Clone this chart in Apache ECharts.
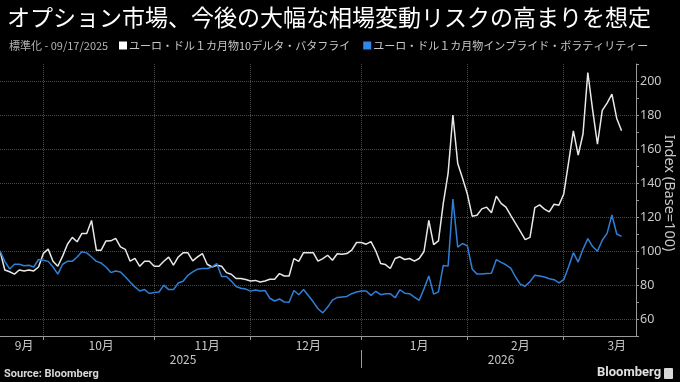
<!DOCTYPE html>
<html>
<head>
<meta charset="utf-8">
<script src="https://cdn.jsdelivr.net/npm/echarts@6/dist/echarts.min.js"></script>
<style>
html,body{margin:0;padding:0;background:#000;}
#c{width:680px;height:382px;}
</style>
</head>
<body>
<div id="c"></div>
<script>
// ---- data ----
const titleText = 'オプション市場、今後の大幅な相場変動リスクの高まりを想定';
const subtitleText = '標準化 - 09/17/2025';
const seriesNames = ['ユーロ・ドル１カ月物10デルタ・バタフライ', 'ユーロ・ドル１カ月物インプライド・ボラティリティー'];
const startDate = '2025-09-17';
const axisSlots = 133; // business days shown on the axis (data fills first 130)
const yTickLabels = [60, 80, 100, 120, 140, 160, 180, 200];

const butterfly = [
  100, 88.8, 87.8, 86.4, 88.8, 88.3, 88.8, 88.3, 90.6, 98.6,
  101.1, 94, 91, 97, 104, 108, 105.4, 110.3, 110.3, 118,
  100.5, 100.5, 105.9, 106, 107.4, 102.4, 101, 94, 95.7, 91,
  94, 94, 91, 91, 94, 96.4, 91.7, 96.5, 98.9, 98.9,
  94.2, 96.5, 98.5, 92.2, 90.6, 91.6, 91, 87.3, 86.3, 83.8,
  83.8, 83.2, 82.4, 82.7, 81.8, 82.4, 83.4, 83.4, 86.7, 85.3,
  85.3, 95.5, 93.9, 99, 99, 99, 94, 95.5, 97.5, 94.6,
  98.4, 98.1, 98.5, 100.5, 105, 105, 104, 105.5, 100, 92.6,
  92, 89.7, 95.6, 96.6, 95, 95.6, 94, 95.6, 99.7, 118,
  103.8, 106, 128, 145.6, 180, 151.5, 142.8, 133.5, 120.5, 121,
  124.8, 125.8, 122.5, 132.3, 128, 125.8, 121, 116.3, 111.5, 106.7,
  108, 125.5, 127.1, 124.6, 123, 127.5, 126.9, 133.5, 152, 170.7,
  156.4, 168.8, 205, 183, 162.8, 182.7, 187, 192.3, 178, 170.7
];
const impliedVol = [
  100, 93.9, 89.4, 92.2, 92.2, 91.3, 91.6, 90.6, 95, 94.6,
  93.9, 90.6, 86.4, 92.2, 93.9, 93.9, 96.5, 99.5, 98.9, 96.5,
  93.9, 92.9, 90.6, 87.3, 88.2, 87.7, 84.8, 81.8, 78.9, 76.5,
  77.3, 75, 75.6, 75.9, 79.9, 77.3, 77.3, 81.2, 82.2, 85.7,
  87.7, 89.3, 89.7, 89.7, 90.6, 92.6, 85, 85, 82.3, 79.1,
  78.1, 77.6, 76.4, 77, 76.5, 76.8, 72.2, 70.6, 71.8, 70,
  69.9, 76.8, 74.3, 77.4, 73.8, 70.1, 66, 63.6, 67, 71.1,
  72.7, 73, 73.3, 74.9, 75.9, 76.5, 76.5, 73.9, 76.3, 74.3,
  74.9, 74.9, 72.5, 77.2, 75.2, 74.9, 72.9, 71, 77.8, 85.3,
  74.6, 76, 91.5, 91.1, 130.6, 102.3, 104.4, 103, 89.4, 86.4,
  86.4, 86.7, 86.9, 94.9, 93.3, 91.9, 89.9, 84.7, 80.4, 79.3,
  82, 85.7, 85.3, 84.7, 83.7, 83.1, 81.3, 83.1, 90.6, 99,
  93.5, 101, 107.3, 102.6, 99.9, 106.3, 110.4, 121.2, 110, 108.6
];

// ---- business-day categories ----
function fmt(d){return d.getUTCFullYear()+'-'+String(d.getUTCMonth()+1).padStart(2,'0')+'-'+String(d.getUTCDate()).padStart(2,'0');}
function isBiz(d){const w=d.getUTCDay();return w!==0&&w!==6;}
const dates = [];
{
  const d = new Date(startDate + 'T00:00:00Z');
  while (dates.length < axisSlots) {
    if (isBiz(d)) dates.push(fmt(d));
    d.setUTCDate(d.getUTCDate() + 1);
  }
}
const ym = s => s.slice(0,7);
// month-end gridline indices
const monthEnds = new Set();
for (let i = 0; i < dates.length - 1; i++) if (ym(dates[i]) !== ym(dates[i+1])) monthEnds.add(i);
// business-day offset of a date from start (negative before start)
function bizOffset(d){
  const a = new Date(startDate + 'T00:00:00Z');
  let cnt = 0; const t = new Date(a);
  const sign = d >= a ? 1 : -1;
  while (sign > 0 ? t < d : t > d) { t.setUTCDate(t.getUTCDate() + sign); if (isBiz(t)) cnt += sign; }
  return cnt;
}
// month label index: centre of whole calendar month's business days, clamped
const monthLabelIdx = new Map();
[...new Set(dates.map(ym))].forEach(m => {
  const [yy, mm] = m.split('-').map(Number);
  const idxs = [];
  const d = new Date(Date.UTC(yy, mm-1, 1));
  while (d.getUTCMonth() === mm-1) { if (isBiz(d)) idxs.push(bizOffset(new Date(d))); d.setUTCDate(d.getUTCDate() + 1); }
  let c = Math.round((idxs[0] + idxs[idxs.length-1]) / 2);
  c = Math.max(5, Math.min(dates.length - 5, c));
  monthLabelIdx.set(c, mm + '月');
});
// year label indices and year separators
const yearLabelIdx = new Map();
const yearEnds = new Set();
[...new Set(dates.map(s => s.slice(0,4)))].forEach(y => {
  const idx = dates.map((s,i)=>s.startsWith(y)?i:-1).filter(i=>i>=0);
  yearLabelIdx.set(Math.round((idx[0]+idx[idx.length-1])/2), y);
  if (idx[idx.length-1] < dates.length-1) yearEnds.add(idx[idx.length-1]);
});

const chart = echarts.init(document.getElementById('c'), null, {renderer:'canvas'});
const jp = '"Noto Sans CJK JP", "Noto Sans", sans-serif';
const txt = '#c8c8c8';
chart.setOption({
  backgroundColor: '#000',
  animation: false,
  title: [
    {text: titleText, left: 2, top: 1, textStyle: {color: '#fff', fontSize: 23, fontWeight: 'normal', fontFamily: jp}},
    {text: subtitleText, left: 4, top: 35, textStyle: {color: '#b4b4b4', fontSize: 11, fontWeight: 'normal', fontFamily: jp}}
  ],
  legend: {
    left: 114, top: 35, itemWidth: 8, itemHeight: 8, itemGap: 13, icon: 'rect',
    textStyle: {color: '#c8c8c8', fontSize: 11, fontFamily: jp, padding: [0,0,0,-3]},
    data: seriesNames
  },
  grid: {left: 0, right: 44, top: 64, bottom: 46, containLabel: false, outerBoundsMode: 'none'},
  xAxis: [
    {
      type: 'category', data: dates, boundaryGap: false,
      axisLine: {lineStyle: {color: '#9a9a9a', width: 1}},
      axisTick: {show: true, length: 4, interval: (i) => monthEnds.has(i), lineStyle: {color: '#9a9a9a'}},
      splitLine: {show: true, interval: (i) => monthEnds.has(i), lineStyle: {color: '#4a4a4a', type: 'dotted', width: 1}},
      axisLabel: {interval: (i) => monthLabelIdx.has(i), formatter: (v, i) => monthLabelIdx.get(i) || '', color: txt, fontSize: 12, fontFamily: jp, margin: 3}
    },
    {
      type: 'category', data: dates, boundaryGap: false, position: 'bottom', offset: 14,
      axisLine: {show: false},
      axisTick: {show: true, length: 18, interval: (i) => yearEnds.has(i), lineStyle: {color: '#9a9a9a'}},
      splitLine: {show: false},
      axisLabel: {interval: (i) => yearLabelIdx.has(i), formatter: (v, i) => yearLabelIdx.get(i) || '', color: txt, fontSize: 12, fontFamily: jp, margin: 3}
    }
  ],
  yAxis: {
    type: 'value', position: 'right', min: 50, max: 210, interval: 10,
    axisLine: {show: true, lineStyle: {color: '#9a9a9a'}},
    axisTick: {show: true, length: 3, lineStyle: {color: '#9a9a9a'}},
    splitLine: {show: true, lineStyle: {color: ['rgba(0,0,0,0)', '#4a4a4a'], type: 'dotted', width: 1}},
    axisLabel: {color: txt, fontSize: 12.5, fontFamily: '"Noto Sans", sans-serif', margin: 4,
      formatter: v => yTickLabels.includes(v) ? String(v) : ''},
    name: 'Index (Base=100)', nameLocation: 'middle', nameRotate: -90, nameGap: 26, nameMoveOverlap: false,
    nameTextStyle: {color: txt, fontSize: 14.5, fontFamily: '"Noto Sans", sans-serif', padding: [0,14,0,0]}
  },
  series: [
    {name: seriesNames[0], type: 'line', data: butterfly, showSymbol: false, symbol: 'none',
      lineStyle: {color: '#e8e8e8', width: 1.5}, itemStyle: {color: '#ffffff'}},
    {name: seriesNames[1], type: 'line', data: impliedVol, showSymbol: false, symbol: 'none',
      lineStyle: {color: '#2f7fd6', width: 1.5}, itemStyle: {color: '#2f86e8'}}
  ],
  graphic: [
    {type: 'text', left: 4, top: 369, style: {text: 'Source: Bloomberg', fill: '#d8d8d8', font: 'bold 11px Roboto, sans-serif'}},
    {type: 'text', left: 597, top: 366, style: {text: 'Bloomberg', fill: '#e0e0e0', font: 'bold 13px Roboto, sans-serif'}},
    {type: 'rect', left: 664, top: 368, shape: {width: 9, height: 11, r: 1}, style: {fill: '#d8d8d8'}}
  ]
});
</script>
</body>
</html>
